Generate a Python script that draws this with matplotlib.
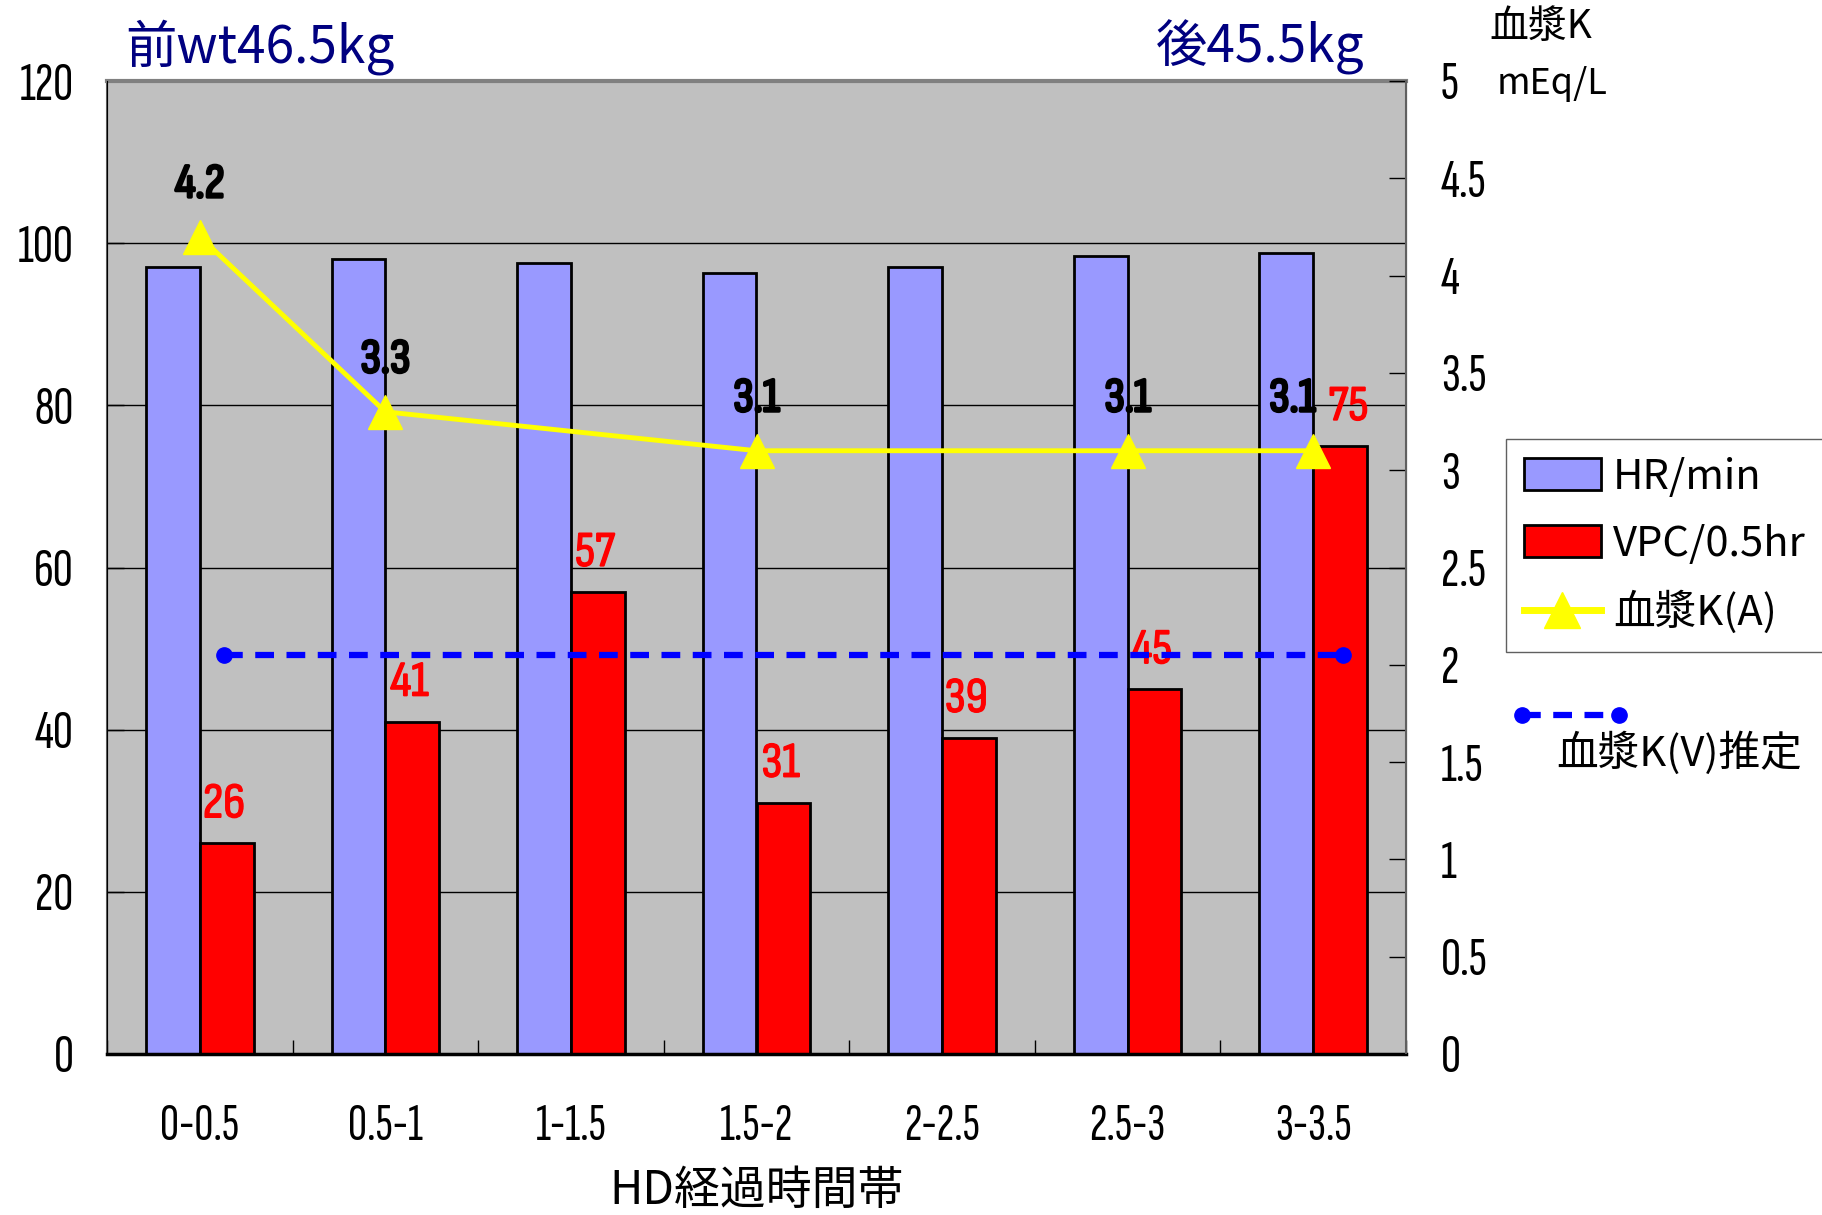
import numpy as np
import matplotlib.pyplot as plt
import matplotlib.patheffects as pe
from matplotlib.lines import Line2D

plt.rcParams['font.family'] = ['Noto Sans CJK JP', 'DejaVu Sans']

# データ
categories = ['0-0.5', '0.5-1', '1-1.5', '1.5-2', '2-2.5', '2.5-3', '3-3.5']
hr = [97, 98, 97.5, 96.3, 97, 98.4, 98.8]          # HR/min
vpc = [26, 41, 57, 31, 39, 45, 75]                 # VPC/0.5hr
ka_idx = [0, 1, 3, 5, 6]                           # 血漿K(A) 測定点
ka = [4.2, 3.3, 3.1, 3.1, 3.1]
ka_lbl = ['4.2', '3.3', '3.1', '3.1', '3.1']
kv_x = [0.13, 6.16]                                # 血漿K(V)推定
kv_y = [2.05, 2.05]

narrow = ['Sofia Sans Extra Condensed', 'Liberation Sans Narrow', 'Noto Sans CJK JP']
semi = ['Sofia Sans Condensed', 'Liberation Sans Narrow', 'Noto Sans CJK JP']

fig = plt.figure(figsize=(18.22, 12.15), dpi=100)
ax = fig.add_axes([107/1822, 1-1054/1215, (1406-107)/1822, (1054-81)/1215])
ax.set_facecolor('#C0C0C0')

x = np.arange(len(categories))
w = 0.29
ax.bar(x - w, hr, w, align='edge', color='#9999FF', edgecolor='black', linewidth=2, zorder=2)
ax.bar(x, vpc, w, align='edge', color='#FF0000', edgecolor='black', linewidth=2, zorder=2)
for i, (xi, v) in enumerate(zip(x, vpc)):
    dx = 6 if i == len(vpc) - 1 else -2
    ax.annotate(str(v), (xi + w/2, v), xytext=(dx, 28), textcoords='offset points',
                ha='center', va='center', color='red', fontsize=36, family=semi, zorder=6,
                path_effects=[pe.withStroke(linewidth=1, foreground='red')])

ax.set_xlim(-0.5, len(categories) - 0.5)
ax.set_ylim(0, 120)
ax.set_yticks(np.arange(0, 121, 20))
ax.yaxis.grid(True, color='black', linewidth=1)
ax.set_axisbelow(True)
ax.set_xticks(x)
ax.set_xticklabels(categories, family=narrow, fontsize=38)
ax.set_xticks(np.arange(-0.5, len(categories)), minor=True)
ax.tick_params(axis='x', which='major', length=0, pad=36)
ax.tick_params(axis='x', which='minor', direction='in', length=10, width=1)
ax.tick_params(axis='y', direction='in', length=12, width=1, pad=24)
for t in ax.get_yticklabels():
    t.set_family(narrow)
    t.set_fontsize(40)
ax.set_xlabel('HD経過時間帯', fontsize=33, labelpad=12)

ax.spines['top'].set_color('#808080')
ax.spines['top'].set_linewidth(3)
ax.spines['left'].set_color('#606060')
ax.spines['left'].set_linewidth(1.5)
ax.spines['bottom'].set_linewidth(2.5)

ax2 = ax.twinx()
ax2.set_ylim(0, 5)
ax2.set_yticks(np.arange(0, 5.01, 0.5))
ax2.set_yticklabels(['0', '0.5', '1', '1.5', '2', '2.5', '3', '3.5', '4', '4.5', '5'])
ax2.tick_params(axis='y', direction='in', length=12, width=1, pad=25)
for t in ax2.get_yticklabels():
    t.set_family(narrow)
    t.set_fontsize(40)
ax2.spines['right'].set_color('#606060')
ax2.spines['right'].set_linewidth(1.5)
ax2.spines['top'].set_visible(False)

ax2.plot(ka_idx, ka, color='#FFFF00', linewidth=3.5, marker='^', markersize=24, zorder=4)
ax2.plot(kv_x, kv_y, color='#0000FF', linewidth=4.5, dashes=(3, 2), marker='o', markersize=11, zorder=3)
for i, (xi, v, s) in enumerate(zip(ka_idx, ka, ka_lbl)):
    dx = -15 if i == len(ka_idx) - 1 else 0
    ax2.annotate(s, (xi, v), xytext=(dx, 37), textcoords='offset points',
                 ha='center', va='center', fontsize=35, family=semi, zorder=6,
                 path_effects=[pe.withStroke(linewidth=2, foreground='black')])

# 上部テキスト
fig.text(125/1822, 1-47/1215, '前wt46.5kg', color='#000080', fontsize=37, va='center', ha='left')
fig.text(1365/1822, 1-47/1215, '後45.5kg', color='#000080', fontsize=37, va='center', ha='right')
fig.text(1541/1822, 1-27/1215, '血漿K', fontsize=28, va='center', ha='center')
fig.text(1552/1822, 1-84/1215, 'mEq/L', fontsize=26, va='center', ha='center')

# 凡例
handles = [plt.Rectangle((0, 0), 1, 1, facecolor='#9999FF', edgecolor='black', linewidth=2),
           plt.Rectangle((0, 0), 1, 1, facecolor='#FF0000', edgecolor='black', linewidth=2),
           Line2D([], [], color='#FFFF00', linewidth=5, marker='^', markersize=26)]
leg = fig.legend(handles, ['HR/min', 'VPC/0.5hr', '血漿K(A)'], loc='upper left',
                 bbox_to_anchor=(1506/1822, 1-439/1215, 0.2, 0.0), mode='expand',
                 borderaxespad=0, fontsize=30,
                 frameon=True, fancybox=False, edgecolor='#606060', framealpha=1,
                 handlelength=1.85, handleheight=0.8, labelspacing=0.63, handletextpad=0.3,
                 borderpad=0.42)
leg.get_frame().set_linewidth(1)

fig.add_artist(Line2D([1522/1822, 1619/1822], [1-715/1215, 1-715/1215], transform=fig.transFigure,
                      color='#0000FF', linewidth=4.5, dashes=(3, 2), marker='o', markersize=11))
fig.text(1679/1822, 1-753/1215, '血漿K(V)推定', fontsize=30, va='center', ha='center')

fig.savefig('out.png', dpi=100)
